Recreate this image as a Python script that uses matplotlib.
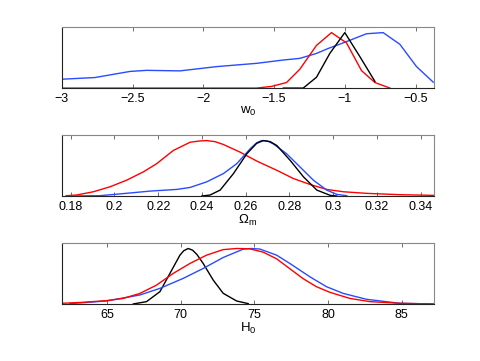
import numpy as np
import matplotlib.pyplot as plt

plt.rcParams['font.family'] = ['Liberation Sans', 'DejaVu Sans']
plt.rcParams['mathtext.fontset'] = 'custom'
plt.rcParams['mathtext.rm'] = 'Liberation Sans'
plt.rcParams['mathtext.it'] = 'Liberation Sans'

# w0 panel
w0_blue_x = [-3.0, -2.767, -2.519, -2.401, -2.166, -1.907, -1.624, -1.435, -1.318, -1.200,
             -1.118, -1.011, -0.846, -0.729, -0.611, -0.493, -0.375]
w0_blue_y = [0.16, 0.19, 0.30, 0.32, 0.31, 0.387, 0.446, 0.506, 0.536, 0.625,
             0.714, 0.815, 0.98, 1.0, 0.79, 0.387, 0.107]
w0_red_x = [-3.0, -1.624, -1.518, -1.412, -1.318, -1.200, -1.094, -0.988, -0.882, -0.787, -0.681]
w0_red_y = [0.0, 0.0, 0.03, 0.10, 0.34, 0.77, 1.0, 0.815, 0.315, 0.10, 0.0]
w0_black_x = [-1.435, -1.294, -1.200, -1.106, -1.0, -0.893, -0.787]
w0_black_y = [0.0, 0.0, 0.196, 0.625, 1.0, 0.565, 0.12]

# Omega_m panel
om_red_x = [0.178, 0.1827, 0.1904, 0.198, 0.2056, 0.2132, 0.2193, 0.2269, 0.2346, 0.2384, 0.2422,
            0.2460, 0.2498, 0.2574, 0.265, 0.2742, 0.2818, 0.2894, 0.297, 0.3046, 0.3153,
            0.3306, 0.3458]
om_red_y = [0.006, 0.018, 0.077, 0.167, 0.286, 0.435, 0.583, 0.821, 0.97, 0.99, 1.0,
            0.98, 0.929, 0.792, 0.631, 0.464, 0.315, 0.208, 0.119, 0.077, 0.048,
            0.024, 0.012]
om_blue_x = [0.178, 0.1934, 0.2086, 0.2163, 0.2285, 0.2346, 0.2422, 0.2498, 0.2559, 0.262,
             0.2650, 0.2673, 0.2700, 0.2726, 0.2787, 0.2848, 0.2909, 0.297, 0.3016, 0.3062]
om_blue_y = [0.0, 0.006, 0.06, 0.089, 0.119, 0.155, 0.256, 0.405, 0.583, 0.851,
             0.96, 1.0, 0.99, 0.94, 0.762, 0.524, 0.286, 0.107, 0.03, 0.006]
om_black_x = [0.2399, 0.2437, 0.2483, 0.2544, 0.2605, 0.2650, 0.2681, 0.2712, 0.2742, 0.2803,
              0.2864, 0.2925, 0.2986, 0.3016]
om_black_y = [0.0, 0.018, 0.107, 0.405, 0.762, 0.95, 1.0, 0.98, 0.911, 0.643,
              0.345, 0.107, 0.012, 0.0]

# H0 panel
h0_red_x = [61.92, 63.37, 64.95, 66.09, 67.22, 68.35, 69.48, 70.62, 71.75, 72.88, 73.79, 74.69,
            75.6, 76.51, 77.41, 78.32, 79.22, 80.13, 81.49, 82.85, 84.89, 87.15]
h0_red_y = [0.012, 0.03, 0.06, 0.10, 0.19, 0.34, 0.55, 0.73, 0.88, 0.98, 1.0, 0.994,
            0.934, 0.814, 0.635, 0.455, 0.311, 0.21, 0.10, 0.042, 0.012, 0.0]
h0_blue_x = [62.46, 64.95, 67.22, 68.58, 70.16, 71.52, 72.88, 74.24, 74.8, 75.37, 76.51, 77.41,
             78.77, 79.9, 81.04, 82.62, 84.89, 87.15]
h0_blue_y = [0.006, 0.054, 0.162, 0.281, 0.461, 0.64, 0.838, 0.988, 1.0, 0.99, 0.88, 0.73,
             0.49, 0.311, 0.19, 0.084, 0.012, 0.0]
h0_black_x = [66.77, 67.67, 68.58, 69.26, 69.94, 70.2, 70.5, 70.8, 71.1, 71.52, 72.2, 72.88,
              73.79, 74.58]
h0_black_y = [0.0, 0.042, 0.222, 0.551, 0.88, 0.96, 1.0, 0.97, 0.89, 0.73, 0.431, 0.192,
              0.054, 0.006]

panels = [
    dict(curves=[(w0_blue_x, w0_blue_y, '#2a4bff'), (w0_red_x, w0_red_y, 'r'), (w0_black_x, w0_black_y, 'k')],
         xlim=(-3, -0.37), ticks=[-3, -2.5, -2, -1.5, -1, -0.5],
         ticklabels=['\u22123', '\u22122.5', '\u22122', '\u22121.5', '\u22121', '\u22120.5'],
         label=r'w$_0$', bottom=0.756),
    dict(curves=[(om_red_x, om_red_y, 'r'), (om_blue_x, om_blue_y, '#2a4bff'), (om_black_x, om_black_y, 'k')],
         xlim=(0.176, 0.346), ticks=[0.18, 0.2, 0.22, 0.24, 0.26, 0.28, 0.3, 0.32, 0.34],
         ticklabels=['0.18', '0.2', '0.22', '0.24', '0.26', '0.28', '0.3', '0.32', '0.34'],
         label=r'$\Omega_{\rm m}$', bottom=0.457),
    dict(curves=[(h0_black_x, h0_black_y, 'k'), (h0_blue_x, h0_blue_y, '#2a4bff'), (h0_red_x, h0_red_y, 'r')],
         xlim=(61.92, 87.2), ticks=[65, 70, 75, 80, 85],
         ticklabels=['65', '70', '75', '80', '85'],
         label=r'H$_0$', bottom=0.158),
]

fig = plt.figure(figsize=(4.8, 3.61), dpi=100)

for p in panels:
    ax = fig.add_axes([0.129, p['bottom'], 0.775, 0.169])
    for x, y, c in p['curves']:
        ax.plot(x, y, color=c, linewidth=1.0)
    ax.set_xlim(p['xlim'])
    ax.set_ylim(0, 1.1)
    ax.set_xticks(p['ticks'])
    ax.set_xticklabels(p['ticklabels'])
    ax.set_yticks([])
    ax.tick_params(axis='x', direction='in', top=True, length=3, width=0.6,
                   color='#555555', labelsize=9, pad=3.5)
    ax.set_xlabel(p['label'], fontsize=9.5, labelpad=0)
    for side in ['top', 'right']:
        ax.spines[side].set_color('#888888')
    for side in ['left', 'bottom']:
        ax.spines[side].set_color('#222222')
    for s in ax.spines.values():
        s.set_linewidth(0.8)

fig.savefig('out.png', dpi=100)
